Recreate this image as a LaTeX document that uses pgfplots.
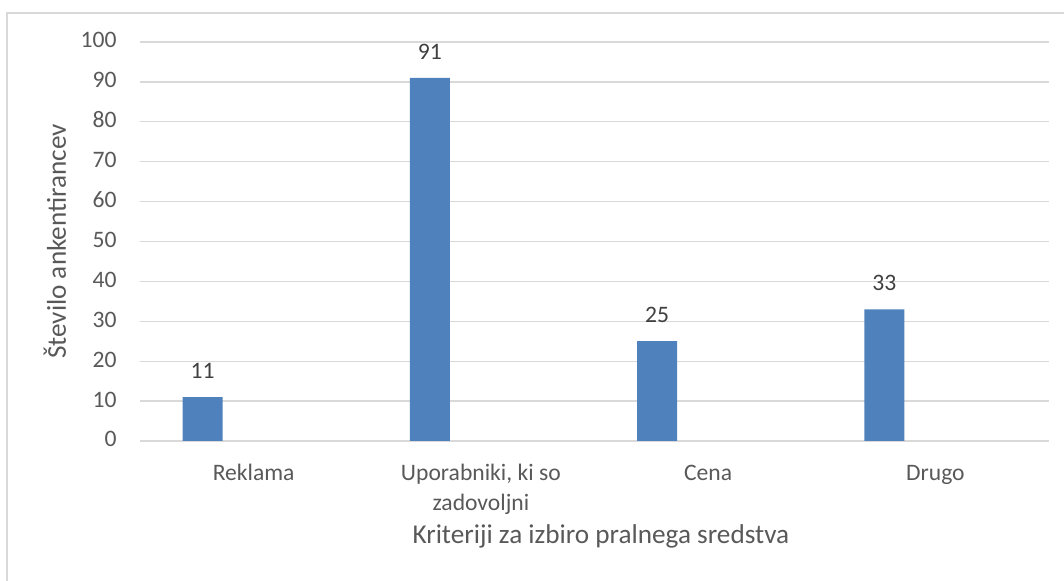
\documentclass[border=0pt]{standalone}
\usepackage{pgfplots}
\pgfplotsset{compat=1.18}
\usepackage{fontspec}
\setmainfont{Carlito}
\definecolor{barblue}{HTML}{4F81BD}
\definecolor{txt}{HTML}{595959}
\definecolor{lbl}{HTML}{404040}
\definecolor{gridc}{HTML}{D9D9D9}
\pgfplotsset{/pgf/number format/assume math mode=true}
\begin{document}
\begin{tikzpicture}
\path[use as bounding box] (0pt,0pt) rectangle (532pt,290.5pt);
\draw[gridc, line width=0.75pt] (3.5pt,0pt) -- (3.5pt,284pt) -- (532pt,284pt);
\begin{axis}[
  at={(70pt,70pt)}, anchor=south west,
  scale only axis, width=454.5pt, height=199.5pt,
  ybar, bar width=20pt, bar shift=-25.5pt,
  xmin=-0.5, xmax=3.5, ymin=0, ymax=100,
  xtick={0,1,2,3},
  xticklabels={Reklama,{Uporabniki, ki so\\zadovoljni},Cena,Drugo},
  ytick={0,10,...,100},
  ymajorgrids,
  major grid style={draw=gridc, line width=0.65pt},
  axis line style={draw=none},
  major tick length=0pt,
  tick label style={font=\fontsize{11.8}{15}\selectfont, color=txt},
  typeset ticklabels with strut,
  xticklabel style={anchor=north, inner sep=0pt, yshift=-9pt, align=center},
  yticklabel style={anchor=east, inner sep=0pt, xshift=-11.5pt},
  xlabel={Kriteriji za izbiro pralnega sredstva},
  xlabel style={at={(axis description cs:0.507,0)}, anchor=base, yshift=-51.5pt, inner sep=0pt, font=\fontsize{13.6}{16}\selectfont, color=txt},
  ylabel={Število ankentirancev},
  every axis y label/.style={at={(axis description cs:0,0.5)}, xshift=-37pt, rotate=90, anchor=base, inner sep=0pt, font=\fontsize{13.6}{16}\selectfont, color=txt},
  nodes near coords,
  every node near coord/.append style={font=\fontsize{11.8}{15}\selectfont, color=lbl, inner sep=0pt, yshift=9pt},
]
\addplot[fill=barblue, draw=none] coordinates {(0,11) (1,91) (2,25) (3,33)};
\end{axis}
\end{tikzpicture}
\end{document}
